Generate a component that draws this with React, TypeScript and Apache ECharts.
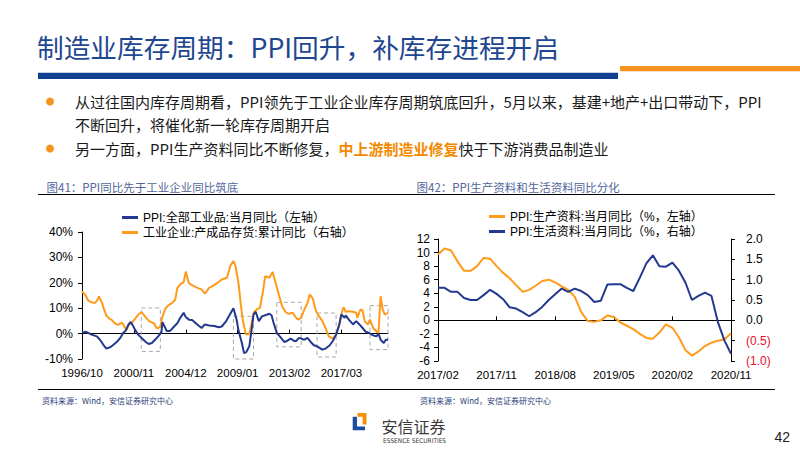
import React, { useEffect, useRef } from 'react';
import * as echarts from 'echarts';

// ---------- colours / fonts ----------
const BLUE = '#22398F';
const ORANGE = '#FF9B1A';
const NAVY = '#1F4690';
const CJK = '"Liberation Sans", Arial, "Noto Sans CJK SC", sans-serif';
const CJK_ONLY = '"Noto Sans CJK SC", "Liberation Sans", sans-serif';

// ---------- texts ----------
const pageTitle = '制造业库存周期：PPI回升，补库存进程开启';
const bullet1a = '从过往国内库存周期看，PPI领先于工业企业库存周期筑底回升，5月以来，基建+地产+出口带动下，PPI';
const bullet1b = '不断回升，将催化新一轮库存周期开启';
const bullet2 = '另一方面，PPI生产资料同比不断修复，{hl|中上游制造业修复}快于下游消费品制造业';
const chartTitleL = '图41：PPI同比先于工业企业同比筑底';
const chartTitleR = '图42：PPI生产资料和生活资料同比分化';
const sourceText = '资料来源：Wind，安信证券研究中心';
const legendL = ['PPI:全部工业品:当月同比（左轴）', '工业企业:产成品存货:累计同比（右轴）'];
const legendR = ['PPI:生产资料:当月同比（%，左轴）', 'PPI:生活资料:当月同比（%，右轴）'];

// ---------- categories ----------
function monthRange(y0: number, m0: number, y1: number, m1: number): string[] {
  const out: string[] = [];
  let y = y0, m = m0;
  while (y < y1 || (y === y1 && m <= m1)) {
    out.push(`${y}/${m < 10 ? '0' + m : m}`);
    m++;
    if (m > 12) { m = 1; y++; }
  }
  return out;
}
const leftMonths = monthRange(1996, 10, 2020, 11);
const rightMonths = monthRange(2017, 2, 2020, 11);

// ---------- left chart data (%) ----------
const ppiAll: [string, number][] = [
  ['1996/10', 0.3], ['1997/02', 0.7], ['1997/07', -0.4], ['1997/12', -1.1], ['1998/03', -2.4],
  ['1998/06', -4.3], ['1998/09', -5.9], ['1999/01', -5.3], ['1999/04', -4.3], ['1999/07', -3.2],
  ['1999/10', -1.8], ['2000/01', 0.3], ['2000/03', 1.0], ['2000/06', 3.6], ['2000/08', 4.6],
  ['2000/10', 3.2], ['2000/12', 1.6], ['2001/03', -0.4], ['2001/07', -2.0], ['2001/10', -3.2],
  ['2002/01', -4.1], ['2002/04', -3.7], ['2002/07', -2.4], ['2002/10', -1.1], ['2003/01', 0.6],
  ['2003/02', 4.5], ['2003/04', 2.8], ['2003/06', 1.0], ['2003/09', 1.0], ['2004/01', 2.8],
  ['2004/04', 4.1], ['2004/07', 6.3], ['2004/10', 8.2], ['2004/12', 6.5], ['2005/03', 5.5],
  ['2005/06', 5.4], ['2005/09', 4.3], ['2005/12', 3.2], ['2006/03', 2.2], ['2006/06', 3.6],
  ['2006/10', 3.2], ['2007/03', 3.0], ['2007/07', 2.5], ['2007/10', 2.8], ['2008/02', 4.8],
  ['2008/05', 7.0], ['2008/09', 10.0], ['2008/12', 5.5], ['2009/02', 0.9], ['2009/05', -3.7],
  ['2009/07', -7.6], ['2009/09', -7.4], ['2009/12', -5.0], ['2010/02', 0.9], ['2010/04', 7.5],
  ['2010/06', 8.6], ['2010/09', 4.9], ['2010/12', 6.8], ['2011/03', 7.2], ['2011/07', 7.8],
  ['2011/09', 7.2], ['2011/11', 4.2], ['2012/02', 0.3], ['2012/06', -1.7], ['2012/09', -3.3],
  ['2012/12', -2.8], ['2013/03', -2.0], ['2013/06', -2.8], ['2013/08', -3.0], ['2013/11', -1.7],
  ['2014/04', -2.4], ['2014/07', -1.7], ['2014/10', -3.3], ['2015/01', -4.6], ['2015/04', -5.0],
  ['2015/09', -6.3], ['2015/12', -5.9], ['2016/04', -4.6], ['2016/07', -2.8], ['2016/10', -0.4],
  ['2017/01', 3.6], ['2017/03', 7.5], ['2017/06', 6.2], ['2017/07', 7.2], ['2017/10', 5.5],
  ['2018/02', 3.6], ['2018/05', 4.9], ['2018/08', 3.6], ['2018/11', 2.2], ['2019/02', 0.7],
  ['2019/05', 0.3], ['2019/09', -0.7], ['2019/12', -1.1], ['2020/02', -0.1], ['2020/04', -2.4],
  ['2020/07', -3.7], ['2020/09', -2.4], ['2020/11', -2.4],
];

const inventory: [string, number][] = [
  ['1996/10', 16.6], ['1997/01', 15.3], ['1997/04', 12.9], ['1997/07', 12.4], ['1997/10', 12.0],
  ['1997/12', 12.9], ['1998/02', 14.6], ['1998/05', 12.0], ['1998/07', 9.3], ['1998/09', 7.1],
  ['1998/12', 5.8], ['1999/02', 5.4], ['1999/05', 4.1], ['1999/08', 3.4], ['1999/12', 4.3],
  ['2000/02', 2.8], ['2000/04', 1.4], ['2000/06', 3.4], ['2000/09', 4.1], ['2000/12', 5.8],
  ['2001/03', 7.4], ['2001/06', 8.4], ['2001/08', 7.6], ['2001/11', 6.0], ['2002/02', 4.7],
  ['2002/06', 4.1], ['2002/08', 2.4], ['2002/10', 2.1], ['2002/12', 2.8], ['2003/02', 6.7],
  ['2003/05', 10.0], ['2003/08', 11.3], ['2003/11', 12.0], ['2004/02', 13.3], ['2004/04', 17.9],
  ['2004/07', 19.5], ['2004/10', 20.3], ['2004/12', 24.4], ['2005/03', 19.8], ['2005/06', 19.1],
  ['2005/11', 18.0], ['2006/03', 17.4], ['2006/06', 15.7], ['2006/10', 18.0], ['2007/01', 18.7],
  ['2007/06', 20.0], ['2007/10', 21.3], ['2008/03', 22.0], ['2008/06', 26.6], ['2008/09', 28.6],
  ['2008/11', 26.6], ['2009/02', 19.3], ['2009/04', 11.4], ['2009/06', 4.9], ['2009/09', -0.4],
  ['2009/12', -0.1], ['2010/02', 3.6], ['2010/04', 8.2], ['2010/07', 9.5], ['2010/10', 10.1],
  ['2011/01', 16.7], ['2011/03', 22.6], ['2011/07', 22.0], ['2011/10', 24.3], ['2011/12', 21.3],
  ['2012/03', 16.7], ['2012/07', 10.8], ['2012/10', 8.6], ['2013/01', 7.8], ['2013/05', 8.2],
  ['2013/08', 6.4], ['2013/10', 5.5], ['2014/01', 6.2], ['2014/04', 9.5], ['2014/07', 12.1],
  ['2014/09', 15.4], ['2014/12', 13.8], ['2015/03', 8.8], ['2015/06', 6.8], ['2015/09', 4.9],
  ['2015/12', 2.2], ['2016/03', -1.1], ['2016/07', -2.0], ['2016/10', -0.4], ['2017/01', 3.6],
  ['2017/03', 7.8], ['2017/05', 10.4], ['2017/07', 8.6], ['2017/10', 8.8], ['2018/02', 8.6],
  ['2018/05', 8.2], ['2018/06', 6.2], ['2018/09', 9.5], ['2018/11', 9.1], ['2019/01', 4.9],
  ['2019/04', 3.6], ['2019/06', 5.5], ['2019/09', 2.2], ['2019/12', 0.9], ['2020/02', 0.3],
  ['2020/04', 14.7], ['2020/06', 9.5], ['2020/08', 7.5], ['2020/11', 8.2],
];

// dashed highlight boxes: [from, to, top %, bottom %]
const boxes: [string, string, number, number][] = [
  ['2001/06', '2002/12', 10.1, -7.0],
  ['2008/09', '2010/04', 6.8, -10.4],
  ['2012/02', '2014/01', 12.3, -5.2],
  ['2015/04', '2016/10', 8.1, -9.2],
  ['2019/06', '2020/11', 11.0, -6.3],
];

// ---------- right chart data ----------
const producerGoods = [
  9.7, 10.6, 10.3, 8.7, 7.3, 7.3, 8.0, 9.2, 9.1, 8.0, 7.0, 6.2, 5.2, 4.2, 4.5, 5.1,
  5.8, 6.0, 5.6, 5.0, 4.5, 3.5, 1.2, -0.1, -0.2, 0.0, 0.7, 0.5, -0.3, -0.8, -1.3, -2.0,
  -2.6, -2.7, -1.8, -0.6, -1.1, -2.5, -4.4, -5.2, -4.6, -3.8, -3.3, -3.0, -2.8, -1.9,
];
const consumerGoods = [
  0.8, 0.8, 0.7, 0.7, 0.55, 0.5, 0.5, 0.62, 0.75, 0.65, 0.52, 0.32, 0.29, 0.2, 0.1, 0.2,
  0.33, 0.5, 0.64, 0.78, 0.7, 0.78, 0.72, 0.62, 0.45, 0.48, 0.88, 0.89, 0.89, 0.8, 0.72, 1.05,
  1.4, 1.6, 1.33, 1.32, 1.42, 1.22, 0.93, 0.5, 0.6, 0.68, 0.6, -0.05, -0.5, -0.82,
];

const axisFont = { fontFamily: '"Liberation Sans", Arial, sans-serif', fontSize: 12, color: '#000' };

function buildOption(): any {
  const blackLine = { show: true, lineStyle: { color: '#000', width: 1 } };
  return {
    animation: false,
    backgroundColor: '#fff',
    grid: [
      { left: 82, top: 232, width: 306, height: 127 },
      { left: 438, top: 239, width: 293, height: 122 },
    ],
    legend: [
      {
        data: legendL, orient: 'vertical', left: 117, top: 206, itemGap: 2,
        icon: 'rect', itemWidth: 16, itemHeight: 3,
        textStyle: { fontSize: 12, color: '#000', fontFamily: CJK, lineHeight: 13 },
        selectedMode: false,
      },
      {
        data: legendR, orient: 'vertical', left: 484, top: 205, itemGap: 2,
        icon: 'rect', itemWidth: 16, itemHeight: 3,
        textStyle: { fontSize: 12, color: '#000', fontFamily: CJK, lineHeight: 13 },
        selectedMode: false,
      },
    ],
    xAxis: [
      {
        type: 'category', gridIndex: 0, data: leftMonths, boundaryGap: false,
        axisLine: { ...blackLine, onZero: true },
        axisTick: { show: true, inside: true, interval: 48, length: 4, lineStyle: { color: '#000' } },
        axisLabel: { show: false },
        splitLine: { show: false },
      },
      {
        type: 'category', gridIndex: 0, data: leftMonths, boundaryGap: false, position: 'bottom',
        axisLine: { show: false, onZero: false },
        axisTick: { show: false },
        axisLabel: { ...axisFont, fontSize: 11.5, interval: 48, margin: 8, hideOverlap: false },
        splitLine: { show: false },
      },
      {
        type: 'category', gridIndex: 1, data: rightMonths, boundaryGap: false,
        axisLine: { ...blackLine, onZero: true },
        axisTick: { show: true, inside: true, interval: 8, length: 4, lineStyle: { color: '#000' } },
        axisLabel: { show: false },
        splitLine: { show: false },
      },
      {
        type: 'category', gridIndex: 1, data: rightMonths, boundaryGap: false, position: 'bottom',
        axisLine: { show: false, onZero: false },
        axisTick: { show: false },
        axisLabel: { ...axisFont, fontSize: 11.5, interval: 8, margin: 8, hideOverlap: false },
        splitLine: { show: false },
      },
    ],
    yAxis: [
      {
        type: 'value', gridIndex: 0, min: -10, max: 40, interval: 10,
        axisLine: blackLine,
        axisTick: { show: true, length: 4, lineStyle: { color: '#000' } },
        axisLabel: { ...axisFont, formatter: '{value}%', margin: 9 },
        splitLine: { show: false },
      },
      {
        type: 'value', gridIndex: 0, min: -10, max: 40, interval: 10, position: 'right',
        show: false, splitLine: { show: false },
      },
      {
        type: 'value', gridIndex: 1, min: -6, max: 12, interval: 2,
        axisLine: blackLine,
        axisTick: { show: true, length: 4, lineStyle: { color: '#000' } },
        axisLabel: { ...axisFont, margin: 8 },
        splitLine: { show: false },
      },
      {
        type: 'value', gridIndex: 1, min: -1, max: 2, interval: 0.5, position: 'right',
        axisLine: blackLine,
        axisTick: { show: true, length: 4, lineStyle: { color: '#000' } },
        axisLabel: {
          ...axisFont, margin: 15,
          formatter: (v: number) => (v < 0 ? `{neg|(${Math.abs(v).toFixed(1)})}` : v.toFixed(1)),
          rich: { neg: { ...axisFont, color: '#E8102A' } },
        },
        splitLine: { show: false },
      },
    ],
    series: [
      {
        name: legendL[1], type: 'line', xAxisIndex: 0, yAxisIndex: 1, data: inventory,
        symbol: 'none', lineStyle: { color: ORANGE, width: 2 }, itemStyle: { color: ORANGE },
        silent: true,
      },
      {
        name: legendL[0], type: 'line', xAxisIndex: 0, yAxisIndex: 0, data: ppiAll,
        symbol: 'none', lineStyle: { color: BLUE, width: 2 }, itemStyle: { color: BLUE },
        silent: true, clip: false,
        markArea: {
          silent: true,
          label: { show: false },
          itemStyle: { color: 'rgba(0,0,0,0)', borderColor: '#A8A8A8', borderWidth: 1, borderType: [4, 3] },
          data: boxes.map(([a, b, top, bottom]) => [
            { xAxis: a, yAxis: top },
            { xAxis: b, yAxis: bottom },
          ]),
        },
      },
      {
        name: legendR[0], type: 'line', xAxisIndex: 2, yAxisIndex: 2, data: producerGoods,
        symbol: 'none', lineStyle: { color: ORANGE, width: 2 }, itemStyle: { color: ORANGE },
        silent: true,
      },
      {
        name: legendR[1], type: 'line', xAxisIndex: 2, yAxisIndex: 3, data: consumerGoods,
        symbol: 'none', lineStyle: { color: BLUE, width: 2 }, itemStyle: { color: BLUE },
        silent: true,
      },
    ],
    graphic: [
      // page title and bars
      { type: 'text', x: 37, y: 46, style: { text: pageTitle, fontSize: 26.7, fontFamily: CJK_ONLY, fill: NAVY, verticalAlign: 'middle' } },
      { type: 'rect', shape: { x: 38, y: 72.7, width: 580, height: 6.3 }, style: { fill: '#0F3F8F' } },
      { type: 'rect', shape: { x: 620, y: 66, width: 180, height: 5.3 }, style: { fill: '#F7931E' } },
      // bullets
      { type: 'circle', shape: { cx: 50, cy: 101.5, r: 4 }, style: { fill: '#F7931E' } },
      { type: 'circle', shape: { cx: 50, cy: 148.5, r: 4 }, style: { fill: '#F7931E' } },
      { type: 'text', x: 75, y: 101.5, style: { text: bullet1a, fontSize: 15, fontFamily: CJK_ONLY, fill: '#1A1A1A', verticalAlign: 'middle' } },
      { type: 'text', x: 75, y: 124.5, style: { text: bullet1b, fontSize: 15, fontFamily: CJK_ONLY, fill: '#1A1A1A', verticalAlign: 'middle' } },
      {
        type: 'text', x: 75, y: 148.5,
        style: {
          text: bullet2, fontSize: 15, fontFamily: CJK_ONLY, fill: '#1A1A1A', verticalAlign: 'middle',
          rich: { hl: { fontSize: 15, fontFamily: CJK_ONLY, fill: '#F28A00', fontWeight: 'bold' } },
        },
      },
      // chart titles and rules
      { type: 'text', x: 46.5, y: 186.5, style: { text: chartTitleL, fontSize: 11.5, fontFamily: CJK_ONLY, fill: '#52659A', verticalAlign: 'middle' } },
      { type: 'text', x: 416.5, y: 186.5, style: { text: chartTitleR, fontSize: 11.5, fontFamily: CJK_ONLY, fill: '#52659A', verticalAlign: 'middle' } },
      { type: 'line', shape: { x1: 38, y1: 194.5, x2: 775, y2: 194.5 }, style: { stroke: '#000', lineWidth: 1 } },
      // bottom rule and sources
      { type: 'line', shape: { x1: 38, y1: 389.5, x2: 775, y2: 389.5 }, style: { stroke: '#000', lineWidth: 1 } },
      { type: 'text', x: 42, y: 400, style: { text: sourceText, fontSize: 8, fontFamily: CJK_ONLY, fill: '#2B3E78', verticalAlign: 'middle' } },
      { type: 'text', x: 420, y: 400, style: { text: sourceText, fontSize: 8, fontFamily: CJK_ONLY, fill: '#2B3E78', verticalAlign: 'middle' } },
      // logo
      {
        type: 'polygon',
        shape: { points: [[357.5, 413], [366.5, 413], [366.5, 424.5], [362.6, 424.5], [362.6, 416.8], [357.5, 416.8]] },
        style: { fill: '#F39200' },
      },
      {
        type: 'polygon',
        shape: { points: [[352.7, 416.7], [357, 416.7], [357, 426.6], [365, 426.6], [365, 430.2], [352.7, 430.2]] },
        style: { fill: '#1B4EA0' },
      },
      { type: 'text', x: 381.5, y: 426, style: { text: '安信证券', fontSize: 16, fontFamily: CJK_ONLY, fill: '#3A3A3A', verticalAlign: 'middle' } },
      { type: 'text', x: 383, y: 441, style: { text: 'ESSENCE SECURITIES', fontSize: 6.5, fontFamily: '"Liberation Sans Narrow", "DejaVu Sans Condensed", sans-serif', fill: '#3A3A3A', verticalAlign: 'middle' } },
      // page number
      { type: 'text', x: 790, y: 437, style: { text: '42', fontSize: 14, fontFamily: '"Liberation Sans Narrow", "Liberation Sans", sans-serif', fill: '#222', align: 'right', verticalAlign: 'middle' } },
    ],
  };
}

export default function App() {
  const ref = useRef<HTMLDivElement>(null);
  useEffect(() => {
    if (!ref.current) return;
    const chart = echarts.init(ref.current, null, { renderer: 'svg', width: 800, height: 450 });
    chart.setOption(buildOption());
    return () => chart.dispose();
  }, []);
  return (
    <div
      ref={ref}
      style={{ position: 'fixed', left: 0, top: 0, width: 800, height: 450, background: '#fff' }}
    />
  );
}
